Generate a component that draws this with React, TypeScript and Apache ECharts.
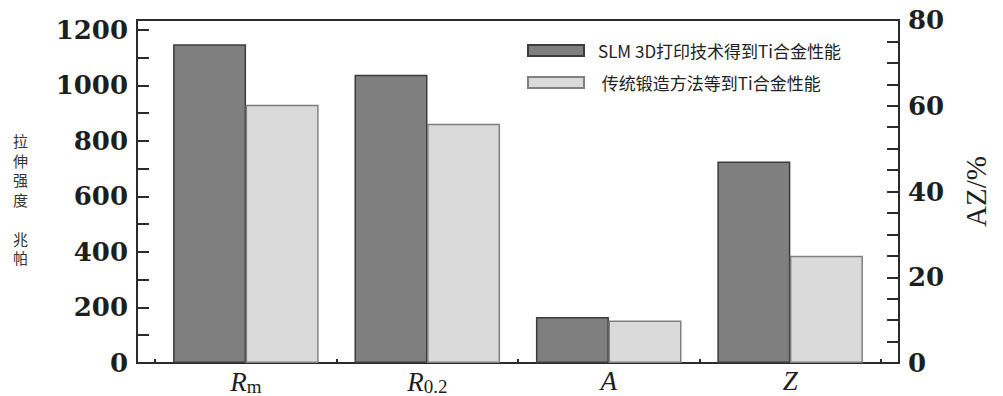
import React, { useEffect, useRef } from "react";
import * as echarts from "echarts";

// ---- data ----
const categoryLabels = ["{i|R}{s|m}", "{i|R}{s|0.2}", "{i|A}", "{i|Z}"];
const categoryAxisIndex = [0, 0, 1, 1]; // Rm, R0.2 on strength axis; A, Z on AZ/% axis
const slmValues = [1148, 1038, 10.7, 47.0];
const forgedValues = [930, 861, 9.9, 25.0];
const seriesNames = ["SLM 3D打印技术得到Ti合金性能", "传统锻造方法等到Ti合金性能"];
const leftTicks = [0, 100, 200, 300, 400, 500, 600, 700, 800, 900, 1000, 1100, 1200];
const leftLabels = [0, 200, 400, 600, 800, 1000, 1200];
const rightTicks = [0, 5, 10, 15, 20, 25, 30, 35, 40, 45, 50, 55, 60, 65, 70, 75, 80];
const rightLabels = [0, 20, 40, 60, 80];
const xTicks = [-0.5, 0, 0.5, 1, 1.5, 2, 2.5, 3, 3.5];
const xLabelPositions = [0, 1, 2, 3];
const leftName = "拉\n伸\n强\n度\n\n兆\n帕";
const rightName = "AZ/%";

const BAR_OFFSET = 0.2;

function buildData(values: number[], offset: number, axis: number) {
  const out: [number, number][] = [];
  values.forEach((v, i) => {
    if (categoryAxisIndex[i] === axis) out.push([i + offset, v]);
  });
  return out;
}

const darkStyle = { color: "#7f7f7f", borderColor: "#3c3c3c", borderWidth: 1.5 };
const lightStyle = { color: "#dadada", borderColor: "#808080", borderWidth: 1.5 };

export default function App() {
  const ref = useRef<HTMLDivElement>(null);
  useEffect(() => {
    document.body.style.margin = "0";
    const chart = echarts.init(ref.current!, undefined, { renderer: "svg" });
    const axisText = {
      fontFamily: "DejaVu Serif",
      fontWeight: "bold" as const,
      fontSize: 26,
      color: "#1e1e1e",
      formatter: (v: number) => String(v),
    };
    const lineStyle = { color: "#2b2b2b", width: 2 };
    const mkSeries = (name: string, values: number[], offset: number, axis: number, style: any) => ({
      name,
      type: "bar",
      xAxisIndex: 0,
      yAxisIndex: axis,
      barWidth: 73,
      barGap: "-100%",
      itemStyle: style,
      data: buildData(values, offset, axis),
    });
    chart.setOption({
      animation: false,
      backgroundColor: "#ffffff",
      grid: {
        left: 137,
        right: 104,
        top: 20,
        bottom: 33,
        show: true,
        borderColor: "#2b2b2b",
        borderWidth: 2,
        backgroundColor: "transparent",
        containLabel: false,
        outerBoundsMode: "none",
      },
      legend: {
        orient: "vertical",
        left: 527,
        top: 42,
        padding: 0,
        itemWidth: 56,
        itemHeight: 11,
        itemGap: 15,
        icon: "rect",
        data: seriesNames,
        formatter: (name: string) => (name === seriesNames[1] ? "\u00a0" + name : name),
        textStyle: {
          fontFamily: "Noto Sans CJK SC",
          fontSize: 17,
          color: "#222",
          padding: [0, 0, 0, 9],
        },
      },
      xAxis: {
        type: "value",
        min: -0.6,
        max: 3.6,
        splitLine: { show: false },
        axisLine: { show: true, onZero: false, lineStyle },
        axisTick: { show: true, inside: true, length: 4, customValues: xTicks, lineStyle },
        axisLabel: {
          customValues: xLabelPositions,
          margin: 4,
          formatter: (v: number) => {
            const i = Math.round(v);
            return Math.abs(v - i) < 1e-6 && i >= 0 && i < categoryLabels.length ? categoryLabels[i] : "";
          },
          rich: {
            i: { fontFamily: "Liberation Serif", fontStyle: "italic", fontSize: 27, color: "#1e1e1e" },
            s: { fontFamily: "Liberation Serif", fontSize: 19, color: "#1e1e1e", verticalAlign: "bottom", padding: [10, 0, 0, 0] },
          },
        },
      },
      yAxis: [
        {
          type: "value",
          position: "left",
          min: 0,
          max: 1235,
          splitLine: { show: false },
          axisLine: { show: true, onZero: false, lineStyle },
          axisTick: { show: true, inside: true, length: 12, customValues: leftTicks, lineStyle },
          axisLabel: { ...axisText, margin: 9, customValues: leftLabels },
        },
        {
          type: "value",
          position: "right",
          min: 0,
          max: 80,
          name: rightName,
          nameLocation: "middle",
          nameRotate: 90,
          nameGap: 62,
          nameTextStyle: { fontFamily: "Liberation Serif", fontSize: 29, color: "#1e1e1e" },
          splitLine: { show: false },
          axisLine: { show: true, onZero: false, lineStyle },
          axisTick: { show: true, inside: true, length: 12, customValues: rightTicks, lineStyle },
          axisLabel: { ...axisText, margin: 9, customValues: rightLabels },
        },
      ],
      graphic: [
        {
          type: "text",
          left: 13,
          top: 131,
          style: {
            text: leftName,
            fontFamily: "Noto Sans CJK SC",
            fontSize: 15,
            lineHeight: 19.5,
            fill: "#333",
          },
        },
      ],
      series: [
        mkSeries(seriesNames[0], slmValues, -BAR_OFFSET, 0, darkStyle),
        mkSeries(seriesNames[0], slmValues, -BAR_OFFSET, 1, darkStyle),
        mkSeries(seriesNames[1], forgedValues, BAR_OFFSET, 0, lightStyle),
        mkSeries(seriesNames[1], forgedValues, BAR_OFFSET, 1, lightStyle),
      ],
    });
    return () => chart.dispose();
  }, []);
  return <div ref={ref} style={{ width: 1003, height: 396 }} />;
}
